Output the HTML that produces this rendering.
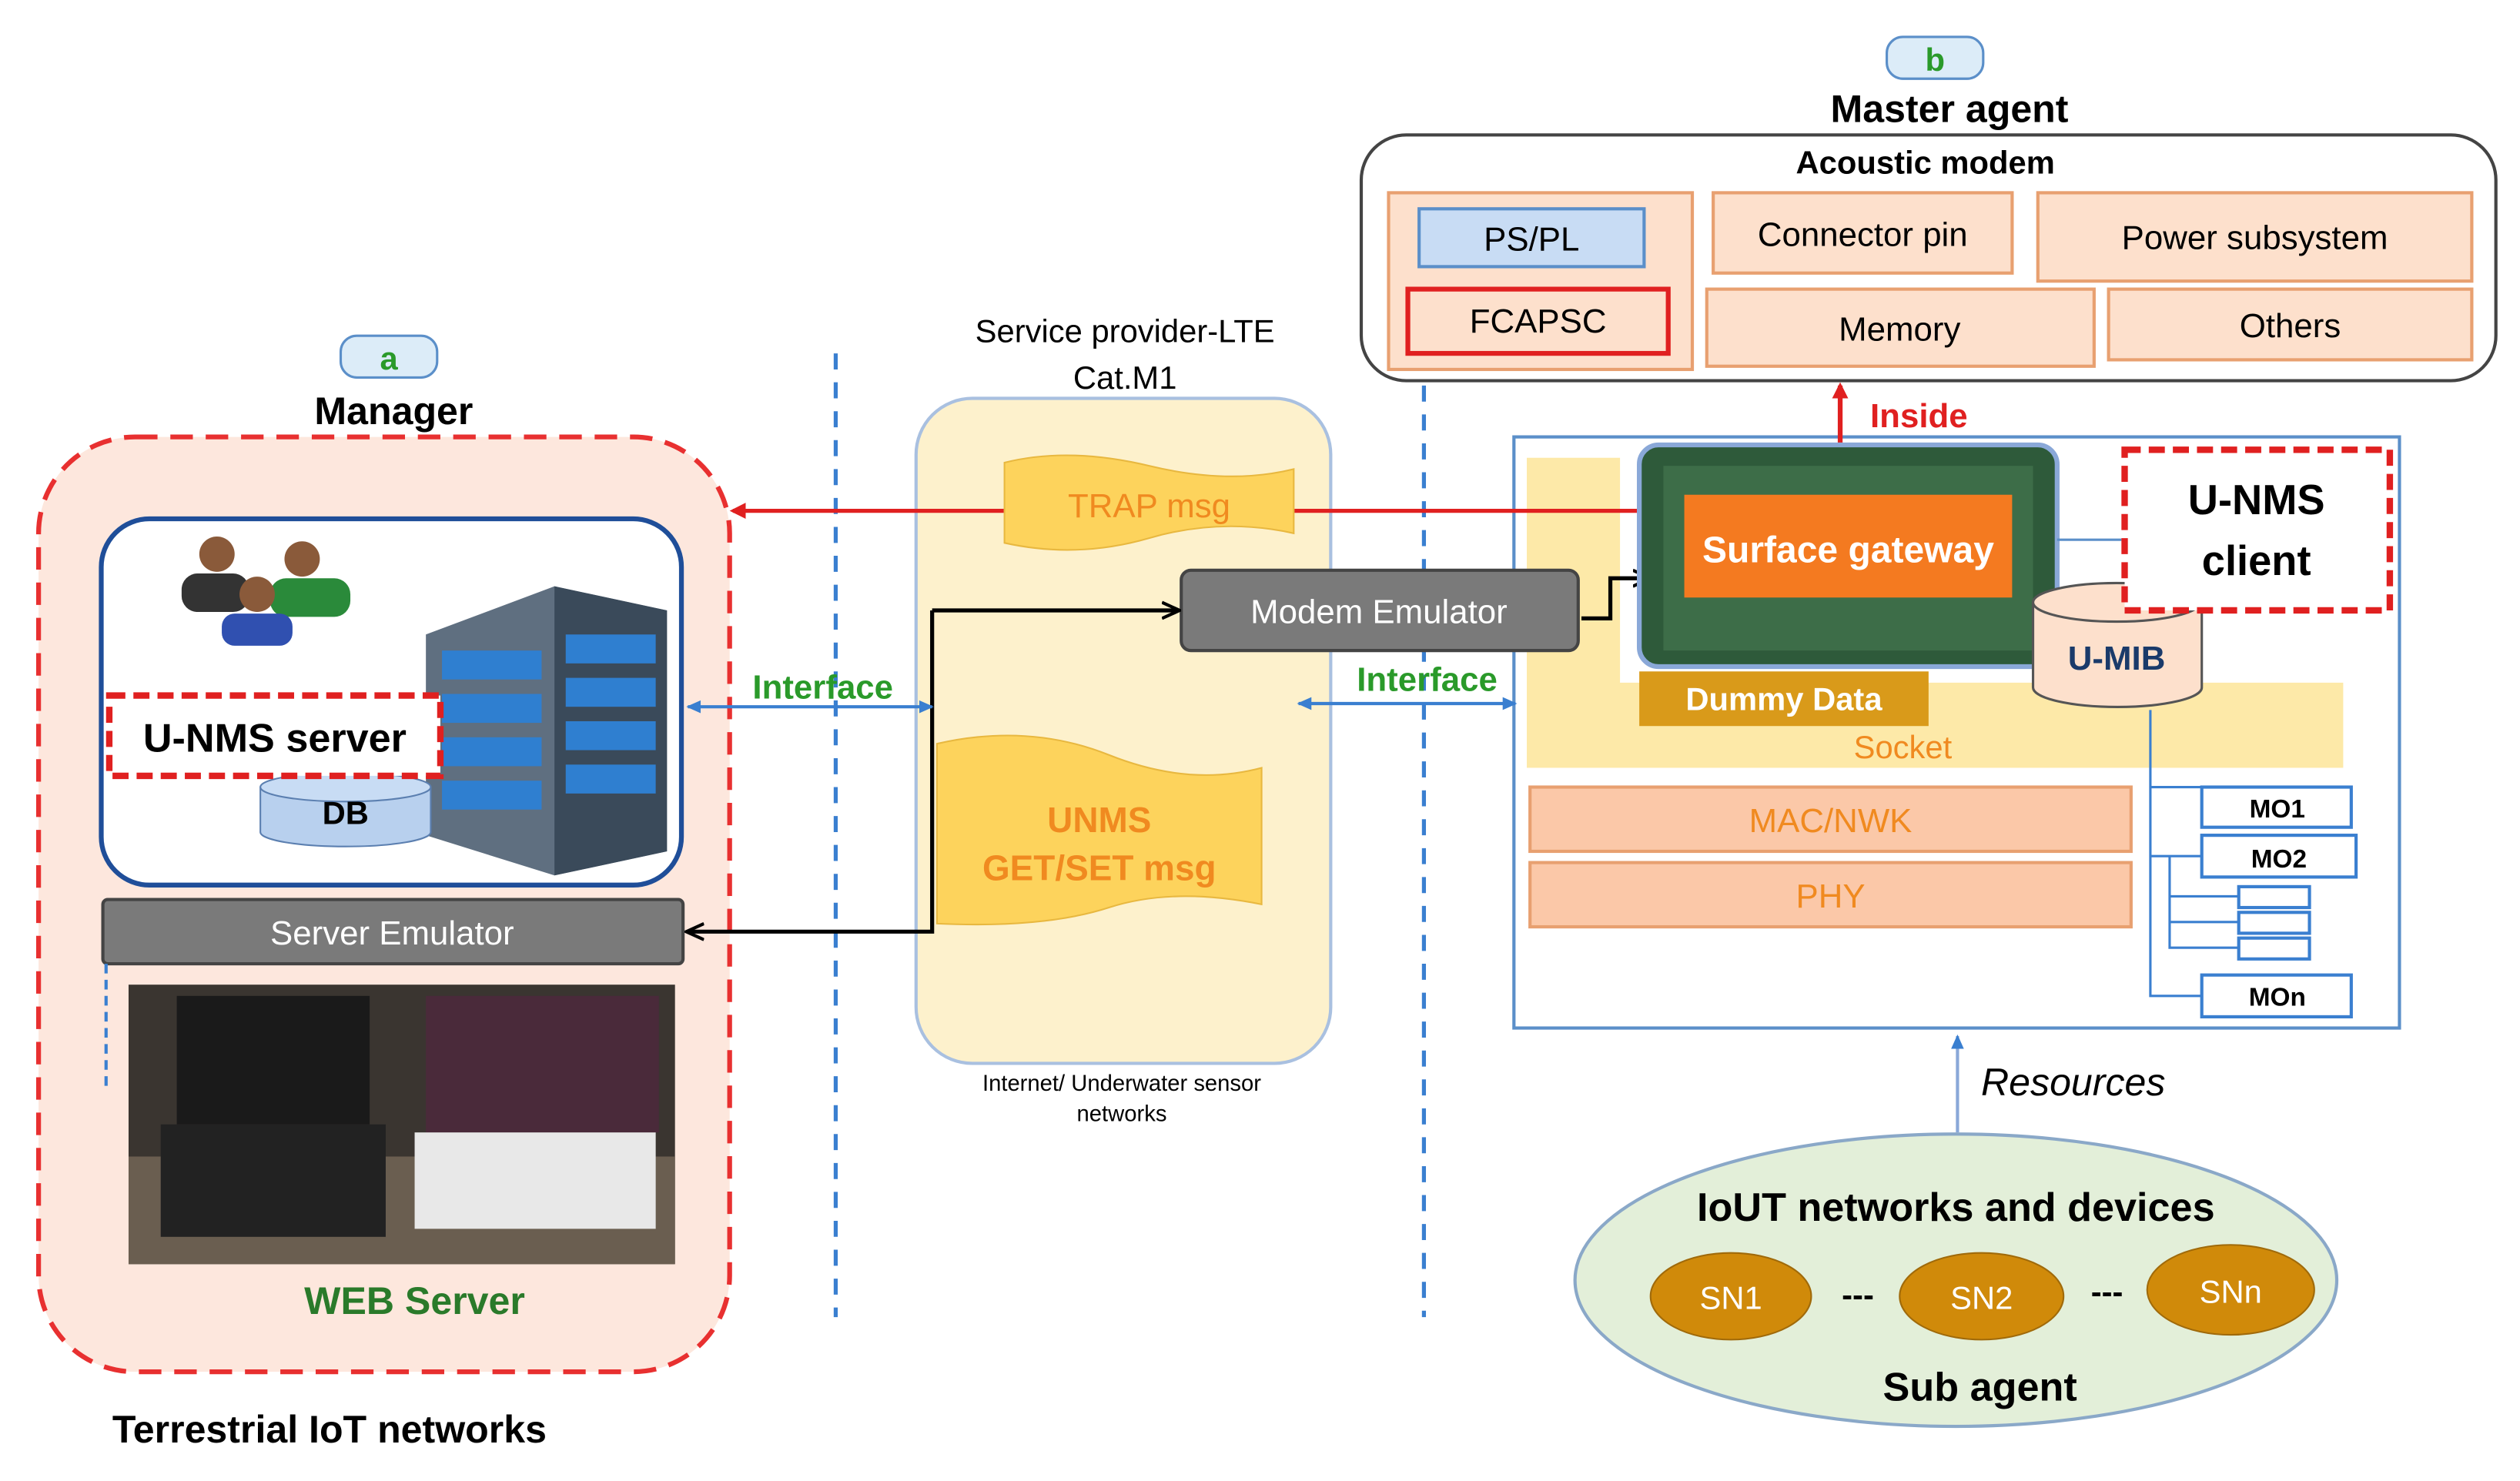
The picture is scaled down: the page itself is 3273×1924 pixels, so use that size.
<!DOCTYPE html>
<html><head><meta charset="utf-8"><style>html,body{margin:0;padding:0;background:#fff}svg{display:block}text{font-family:"Liberation Sans",sans-serif}</style></head><body>
<svg width="3273" height="1924" viewBox="0 0 1568 922" preserveAspectRatio="none" xmlns="http://www.w3.org/2000/svg">
<defs>
<marker id="ar" markerWidth="10" markerHeight="10" refX="8" refY="5" orient="auto" markerUnits="userSpaceOnUse"><path d="M0,0 L10,5 L0,10 z" fill="#e02020"/></marker>
<marker id="ak" markerWidth="12" markerHeight="12" refX="10" refY="6" orient="auto" markerUnits="userSpaceOnUse"><path d="M0,1 L11,6 L0,11" fill="none" stroke="#000" stroke-width="2"/></marker>
<marker id="ab" markerWidth="10" markerHeight="10" refX="8" refY="5" orient="auto-start-reverse" markerUnits="userSpaceOnUse"><path d="M0,1 L9,5 L0,9 z" fill="#3a7fd0"/></marker>
</defs>
<!-- Left manager -->
<rect x="24" y="272" width="430" height="582" rx="60" fill="#fde7dd" stroke="#e83030" stroke-width="3" stroke-dasharray="14,8"/>
<rect x="212" y="209" width="60" height="26" rx="10" fill="#dcecf8" stroke="#5b8fc9" stroke-width="1.5"/>
<text x="242" y="230" font-size="20" font-weight="bold" fill="#2a9a2a" text-anchor="middle">a</text>
<text x="245" y="264" font-size="24" font-weight="bold" text-anchor="middle">Manager</text>
<rect x="63" y="323" width="361" height="228" rx="30" fill="#fff" stroke="#1f4e99" stroke-width="3"/>
<circle cx="135" cy="345" r="11" fill="#8a5a3a"/><rect x="113" y="357" width="42" height="24" rx="10" fill="#333"/>
<circle cx="188" cy="348" r="11" fill="#8a5a3a"/><rect x="168" y="360" width="50" height="24" rx="10" fill="#2a8a3a"/>
<circle cx="160" cy="370" r="11" fill="#8a5a3a"/><rect x="138" y="382" width="44" height="20" rx="8" fill="#3050b0"/>
<polygon points="265,395 345,365 415,380 415,530 345,545 265,520" fill="#5f6f80"/>
<polygon points="345,365 415,380 415,530 345,545" fill="#3a4a5a"/>
<g fill="#2f7fd0"><rect x="275" y="405" width="62" height="18"/><rect x="275" y="432" width="62" height="18"/><rect x="275" y="459" width="62" height="18"/><rect x="275" y="486" width="62" height="18"/><rect x="352" y="395" width="56" height="18"/><rect x="352" y="422" width="56" height="18"/><rect x="352" y="449" width="56" height="18"/><rect x="352" y="476" width="56" height="18"/></g>
<path d="M162,490 L162,518 A53,9 0 0 0 268,518 L268,490" fill="#b8d0ee" stroke="#5b7fb0"/>
<ellipse cx="215" cy="490" rx="53" ry="9" fill="#c8dcf4" stroke="#5b7fb0"/>
<text x="215" y="513" font-size="20" font-weight="bold" text-anchor="middle">DB</text>
<rect x="68" y="433" width="206" height="50" fill="#fff" stroke="#e02020" stroke-width="4" stroke-dasharray="10,5"/>
<text x="171" y="468" font-size="25" font-weight="bold" text-anchor="middle">U-NMS server</text>
<rect x="64" y="560" width="361" height="40" rx="3" fill="#7a7a7a" stroke="#444" stroke-width="2"/>
<text x="244" y="588" font-size="21" fill="#fff" text-anchor="middle">Server Emulator</text>
<rect x="80" y="613" width="340" height="174" fill="#3a3530"/>
<rect x="80" y="720" width="340" height="67" fill="#6a5e50"/>
<rect x="110" y="620" width="120" height="80" fill="#1a1a1a"/><rect x="265" y="620" width="145" height="85" fill="#4a2a3a"/>
<rect x="100" y="700" width="140" height="70" fill="#222"/><rect x="258" y="705" width="150" height="60" fill="#e8e8e8"/>
<line x1="66" y1="600" x2="66" y2="680" stroke="#3a7fd0" stroke-width="2" stroke-dasharray="6,4"/>
<text x="258" y="818" font-size="24" font-weight="bold" fill="#2a7a2a" text-anchor="middle">WEB Server</text>
<text x="205" y="898" font-size="24" font-weight="bold" text-anchor="middle">Terrestrial IoT networks</text>
<line x1="520" y1="220" x2="520" y2="820" stroke="#3a7fd0" stroke-width="2.5" stroke-dasharray="10,8"/>
<line x1="886" y1="240" x2="886" y2="820" stroke="#3a7fd0" stroke-width="2.5" stroke-dasharray="10,8"/>
<!-- right box (drawn early) -->
<rect x="942" y="272" width="551" height="368" fill="#fff" stroke="#5b8fc9" stroke-width="2"/>
<rect x="950" y="285" width="58" height="145" fill="#fde9a8"/>
<rect x="950" y="425" width="508" height="53" fill="#fde9a8"/>
<text x="1184" y="472" font-size="20" fill="#f08a20" text-anchor="middle">Socket</text>
<!-- middle -->
<text x="700" y="213" font-size="20" text-anchor="middle">Service provider-LTE</text>
<text x="700" y="242" font-size="20" text-anchor="middle">Cat.M1</text>
<rect x="570" y="248" width="258" height="414" rx="35" fill="#fdf1cc" stroke="#a9c0e0" stroke-width="2"/>
<line x1="1030" y1="318" x2="456" y2="318" stroke="#e02020" stroke-width="2.5" marker-end="url(#ar)"/>
<path d="M625,288 Q665,278 715,290 T805,292 L805,332 Q760,322 715,335 T625,338 Z" fill="#fdd35c" stroke="#e8b840"/>
<text x="715" y="322" font-size="21" fill="#f08a20" text-anchor="middle">TRAP msg</text>
<path d="M583,463 Q640,450 690,470 T785,478 L785,563 Q730,552 690,565 T583,575 Z" fill="#fdd35c" stroke="#e8b840"/>
<text x="684" y="518" font-size="22" font-weight="bold" fill="#f08a20" text-anchor="middle">UNMS</text>
<text x="684" y="548" font-size="22" font-weight="bold" fill="#f08a20" text-anchor="middle">GET/SET msg</text>
<text x="698" y="679" font-size="14" text-anchor="middle">Internet/ Underwater sensor</text>
<text x="698" y="698" font-size="14" text-anchor="middle">networks</text>
<rect x="735" y="355" width="247" height="50" rx="6" fill="#7a7a7a" stroke="#444" stroke-width="2"/>
<text x="858" y="388" font-size="21" fill="#fff" text-anchor="middle">Modem Emulator</text>
<polyline points="580,380 580,580 428,580" fill="none" stroke="#000" stroke-width="2.5" marker-end="url(#ak)"/>
<line x1="580" y1="380" x2="733" y2="380" stroke="#000" stroke-width="2.5" marker-end="url(#ak)"/>
<polyline points="984,385 1002,385 1002,360 1026,360" fill="none" stroke="#000" stroke-width="2.5" marker-end="url(#ak)"/>
<line x1="428" y1="440" x2="580" y2="440" stroke="#3a7fd0" stroke-width="2" marker-start="url(#ab)" marker-end="url(#ab)"/>
<text x="512" y="435" font-size="21" font-weight="bold" fill="#2a9a2a" text-anchor="middle">Interface</text>
<line x1="808" y1="438" x2="943" y2="438" stroke="#3a7fd0" stroke-width="2" marker-start="url(#ab)" marker-end="url(#ab)"/>
<text x="888" y="430" font-size="21" font-weight="bold" fill="#2a9a2a" text-anchor="middle">Interface</text>
<!-- master agent -->
<rect x="1174" y="23" width="60" height="26" rx="10" fill="#dcecf8" stroke="#5b8fc9" stroke-width="1.5"/>
<text x="1204" y="44" font-size="20" font-weight="bold" fill="#2a9a2a" text-anchor="middle">b</text>
<text x="1213" y="76" font-size="24" font-weight="bold" text-anchor="middle">Master agent</text>
<rect x="847" y="84" width="706" height="153" rx="28" fill="#fff" stroke="#444" stroke-width="2"/>
<text x="1198" y="108" font-size="20" font-weight="bold" text-anchor="middle">Acoustic modem</text>
<rect x="864" y="120" width="189" height="110" fill="#fde0cc" stroke="#e8a070" stroke-width="2"/>
<rect x="883" y="130" width="140" height="36" fill="#c8dcf4" stroke="#5b8fc9" stroke-width="2"/>
<text x="953" y="156" font-size="21" text-anchor="middle">PS/PL</text>
<rect x="876" y="180" width="162" height="40" fill="#fde0cc" stroke="#e02020" stroke-width="3"/>
<text x="957" y="207" font-size="21" text-anchor="middle">FCAPSC</text>
<rect x="1066" y="120" width="186" height="50" fill="#fde0cc" stroke="#e8a070" stroke-width="2"/>
<text x="1159" y="153" font-size="21" text-anchor="middle">Connector pin</text>
<rect x="1268" y="120" width="270" height="55" fill="#fde0cc" stroke="#e8a070" stroke-width="2"/>
<text x="1403" y="155" font-size="21" text-anchor="middle">Power subsystem</text>
<rect x="1062" y="180" width="241" height="48" fill="#fde0cc" stroke="#e8a070" stroke-width="2"/>
<text x="1182" y="212" font-size="21" text-anchor="middle">Memory</text>
<rect x="1312" y="180" width="226" height="44" fill="#fde0cc" stroke="#e8a070" stroke-width="2"/>
<text x="1425" y="210" font-size="21" text-anchor="middle">Others</text>
<!-- right content -->
<line x1="1145" y1="280" x2="1145" y2="240" stroke="#e02020" stroke-width="3" marker-end="url(#ar)"/>
<text x="1194" y="266" font-size="21" font-weight="bold" fill="#e02020" text-anchor="middle">Inside</text>
<rect x="1020" y="277" width="260" height="138" rx="12" fill="#2e5a3a" stroke="#8aa8d8" stroke-width="3"/>
<rect x="1035" y="290" width="230" height="115" fill="#3d6d48"/>
<rect x="1048" y="308" width="204" height="64" fill="#f47a20"/>
<text x="1150" y="350" font-size="23" font-weight="bold" fill="#fff" text-anchor="middle">Surface gateway</text>
<rect x="1020" y="418" width="180" height="34" fill="#d99a1a"/>
<text x="1110" y="442" font-size="20" font-weight="bold" fill="#fff" text-anchor="middle">Dummy Data</text>
<line x1="1280" y1="336" x2="1320" y2="336" stroke="#5b8fc9" stroke-width="1.5"/>
<path d="M1265,375 L1265,428 A52,12 0 0 0 1370,428 L1370,375" fill="#fde0cc" stroke="#555" stroke-width="1.5"/>
<ellipse cx="1317" cy="375" rx="52" ry="12" fill="#fde0cc" stroke="#555" stroke-width="1.5"/>
<text x="1317" y="417" font-size="21" font-weight="bold" fill="#1a3a6a" text-anchor="middle">U-MIB</text>
<rect x="1322" y="280" width="165" height="100" fill="#fff" stroke="#e02020" stroke-width="4" stroke-dasharray="10,5"/>
<text x="1404" y="320" font-size="26" font-weight="bold" text-anchor="middle">U-NMS</text>
<text x="1404" y="358" font-size="26" font-weight="bold" text-anchor="middle">client</text>
<rect x="952" y="490" width="374" height="40" fill="#fbc8a8" stroke="#e8a070" stroke-width="2"/>
<text x="1139" y="518" font-size="21" fill="#f08a20" text-anchor="middle">MAC/NWK</text>
<rect x="952" y="537" width="374" height="40" fill="#fbc8a8" stroke="#e8a070" stroke-width="2"/>
<text x="1139" y="565" font-size="21" fill="#f08a20" text-anchor="middle">PHY</text>
<g stroke="#3a7fd0" stroke-width="1.5" fill="none">
<polyline points="1338,442 1338,620 1370,620"/><line x1="1338" y1="490" x2="1370" y2="490"/><line x1="1338" y1="533" x2="1370" y2="533"/>
<polyline points="1350,533 1350,590 1393,590"/><line x1="1350" y1="558" x2="1393" y2="558"/><line x1="1350" y1="574" x2="1393" y2="574"/>
</g>
<g fill="#fff" stroke="#3a7fd0" stroke-width="2">
<rect x="1370" y="490" width="93" height="25"/><rect x="1370" y="520" width="96" height="26"/>
<rect x="1393" y="552" width="44" height="13"/><rect x="1393" y="568" width="44" height="13"/><rect x="1393" y="584" width="44" height="13"/>
<rect x="1370" y="607" width="93" height="26"/></g>
<text x="1417" y="509" font-size="16" font-weight="bold" text-anchor="middle">MO1</text>
<text x="1418" y="540" font-size="16" font-weight="bold" text-anchor="middle">MO2</text>
<text x="1417" y="626" font-size="16" font-weight="bold" text-anchor="middle">MOn</text>
<line x1="1218" y1="705" x2="1218" y2="645" stroke="#8aa8d8" stroke-width="2" marker-end="url(#ab)"/>
<text x="1290" y="682" font-size="24" font-style="italic" text-anchor="middle">Resources</text>
<ellipse cx="1217" cy="797" rx="237" ry="91" fill="#e3efd9" stroke="#8aa8c8" stroke-width="2"/>
<text x="1217" y="760" font-size="25" font-weight="bold" text-anchor="middle">IoUT networks and devices</text>
<ellipse cx="1077" cy="807" rx="50" ry="27" fill="#d08a0a" stroke="#a06a0a"/>
<ellipse cx="1233" cy="807" rx="51" ry="27" fill="#d08a0a" stroke="#a06a0a"/>
<ellipse cx="1388" cy="803" rx="52" ry="28" fill="#d08a0a" stroke="#a06a0a"/>
<text x="1077" y="815" font-size="20" fill="#fff" text-anchor="middle">SN1</text>
<text x="1233" y="815" font-size="20" fill="#fff" text-anchor="middle">SN2</text>
<text x="1388" y="811" font-size="20" fill="#fff" text-anchor="middle">SNn</text>
<text x="1156" y="813" font-size="20" font-weight="bold" text-anchor="middle">---</text>
<text x="1311" y="811" font-size="20" font-weight="bold" text-anchor="middle">---</text>
<text x="1232" y="872" font-size="25" font-weight="bold" text-anchor="middle">Sub agent</text>
</svg>
</body></html>
